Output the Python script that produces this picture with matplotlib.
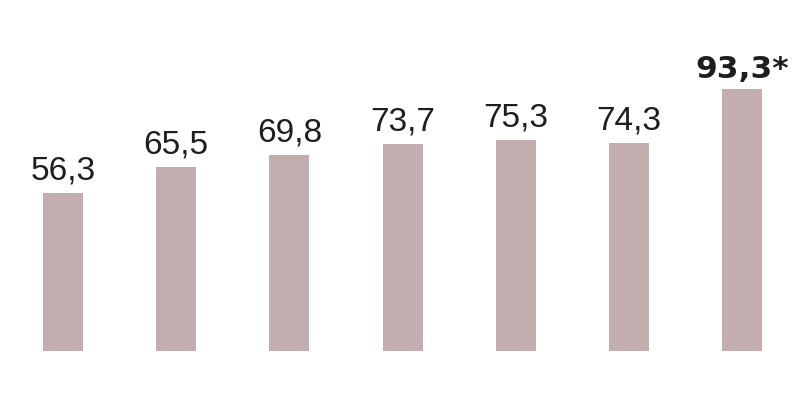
import matplotlib
matplotlib.use("Agg")
import matplotlib.pyplot as plt

# values
labels = ["56,3", "65,5", "69,8", "73,7", "75,3", "74,3", "93,3*"]
values = [56.3, 65.5, 69.8, 73.7, 75.3, 74.3, 93.3]

bar_color = "#c4adae"
text_color = "#1e1e1e"

fig = plt.figure(figsize=(8.08, 4.18), dpi=100)
ax = fig.add_axes([0, 0, 1, 1])

x = list(range(len(values)))
ax.bar(x, values, width=0.353, color=bar_color)

for i, (v, lab) in enumerate(zip(values, labels)):
    last = i == len(values) - 1
    ax.annotate(lab, (i, v), xytext=(0, 3.5 if last else 4.5), textcoords="offset points",
                ha="center", va="bottom", color=text_color,
                fontsize=22.5 if last else 24,
                fontweight="bold" if last else "normal",
                family="DejaVu Sans" if last else "Liberation Sans")

ax.set_xlim(-0.5565, 6.581)
ax.set_ylim(-23.88, 125.1)
ax.axis("off")

fig.savefig("out.png", dpi=100)
